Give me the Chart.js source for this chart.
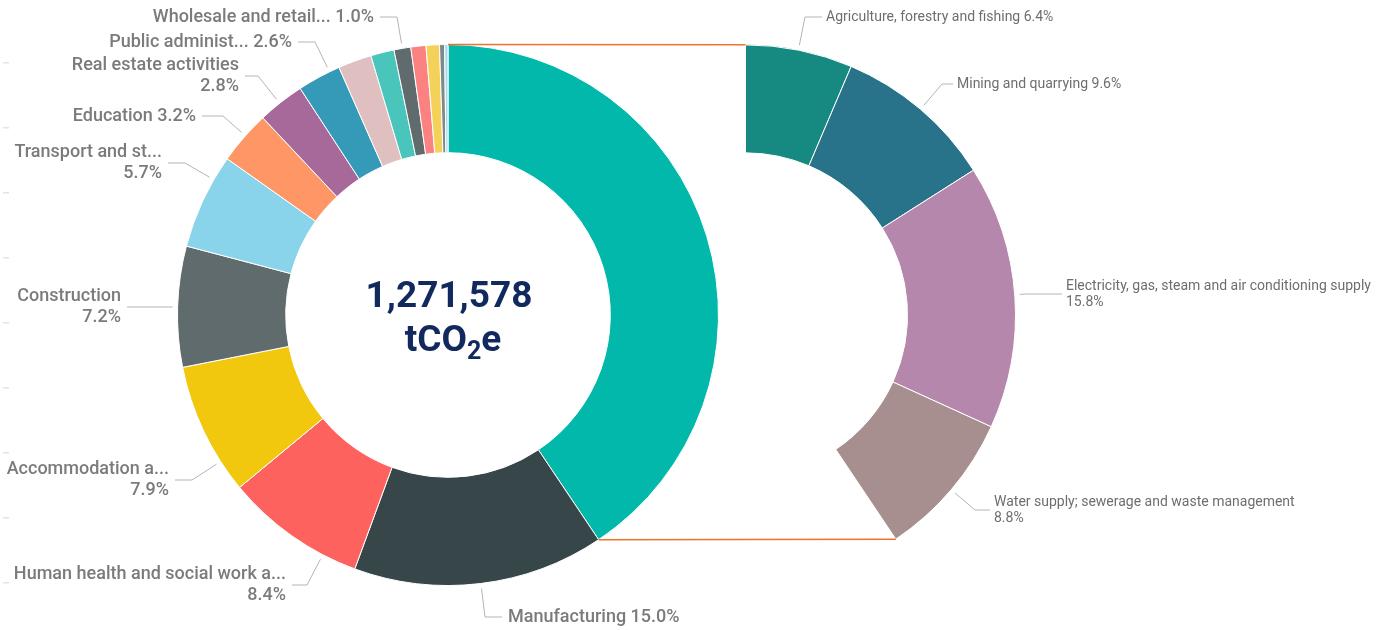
<!DOCTYPE html>
<html>
<head>
<meta charset="utf-8">
<title>Emissions by sector</title>
<script src="https://cdn.jsdelivr.net/npm/chart.js@4.4.0/dist/chart.umd.min.js"></script>
<style>
  html, body { margin: 0; padding: 0; background: #fff; }
  .stage { position: relative; width: 1379px; height: 630px; overflow: hidden; }
  .stage canvas { position: absolute; left: 0; top: 0; }
</style>
</head>
<body>
<div class="stage">
  <canvas id="sectorChart" width="1379" height="630"></canvas>
  <canvas id="breakdownChart" width="1379" height="630"></canvas>
</div>
<script>
// total footprint shown in the middle of the ring
const totalEmissions = 1271578;

// main ring: share of total emissions (%), clockwise from 12 o'clock
const sectors = [
    'Agriculture, mining, energy and water',
    'Manufacturing',
    'Human health and social work activities',
    'Accommodation and food service activities',
    'Construction',
    'Transport and storage',
    'Education',
    'Real estate activities',
    'Public administration and defence',
    'Professional, scientific and technical activities',
    'Administrative and support service activities',
    'Wholesale and retail trade',
    'Arts, entertainment and recreation',
    'Other service activities',
    'Information and communication',
    'Financial and insurance activities'
];
const sectorShares = [40.6, 15.0, 8.4, 7.9, 7.2, 5.7, 3.2, 2.8, 2.6, 2.0, 1.4, 1.0, 0.9, 0.8, 0.3, 0.2];
const sectorColours = [
    '#01B8AA', '#374649', '#FD625E', '#F2C80F', '#5F6B6D', '#8AD4EB', '#FE9666', '#A66999',
    '#3599B8', '#DFBFBF', '#4AC5BB', '#5F6B6D', '#FB8281', '#F4D25A', '#7F898A', '#A4DDEE'
];
// names as they fit next to the ring
const sectorTags = [
    '', 'Manufacturing', 'Human health and social work a...', 'Accommodation a...', 'Construction',
    'Transport and st...', 'Education', 'Real estate activities', 'Public administ...',
    '', '', 'Wholesale and retail...', '', '', '', ''
];

// breakout of the first slice
const breakdownSectors = [
    'Agriculture, forestry and fishing',
    'Mining and quarrying',
    'Electricity, gas, steam and air conditioning supply',
    'Water supply; sewerage and waste management'
];
const breakdownShares = [6.4, 9.6, 15.8, 8.8];
const breakdownColours = ['#168980', '#28738A', '#B687AC', '#A78F8F'];

// where each outside label sits: elbow of the leader, side, horizontal run, one or two lines
const sectorLabelLayout = [
    { index: 11, elbow: [397, 17], dir: -1, run: 17, wrap: false },
    { index: 8, elbow: [315, 42], dir: -1, run: 17, wrap: false },
    { index: 7, elbow: [258, 76], dir: -1, run: 13, wrap: true },
    { index: 6, elbow: [223, 116], dir: -1, run: 21, wrap: false },
    { index: 5, elbow: [185, 163], dir: -1, run: 17, wrap: true },
    { index: 4, elbow: [170, 307], dir: -1, run: 43, wrap: true },
    { index: 3, elbow: [192, 480], dir: -1, run: 17, wrap: true },
    { index: 2, elbow: [307, 585], dir: -1, run: 15, wrap: true },
    { index: 1, elbow: [485, 617], dir: 1, run: 17, wrap: false }
];
const breakdownLabelLayout = [
    { index: 0, elbow: [805, 17], dir: 1, run: 17, wrap: false },
    { index: 1, elbow: [942, 84], dir: 1, run: 11, wrap: false },
    { index: 2, elbow: [1025, 294], dir: 1, run: 37, wrap: true },
    { index: 3, elbow: [975, 510], dir: 1, run: 15, wrap: true }
];

function drawLeaderLabels(chart, layout, names, values, style) {
    const ctx = chart.ctx;
    const arcs = chart.getDatasetMeta(0).data;
    ctx.save();
    ctx.font = style.font;
    ctx.textBaseline = 'middle';
    layout.forEach(function(l) {
        const arc = arcs[l.index].getProps(['x', 'y', 'outerRadius'], true);
        const ang = Math.atan2(l.elbow[1] - arc.y, l.elbow[0] - arc.x);
        const r = arc.outerRadius + 5;
        const endX = l.elbow[0] + l.dir * l.run;

        ctx.strokeStyle = style.lineColour;
        ctx.lineWidth = 1;
        ctx.beginPath();
        ctx.moveTo(arc.x + r * Math.cos(ang), arc.y + r * Math.sin(ang));
        ctx.lineTo(l.elbow[0], l.elbow[1]);
        ctx.lineTo(endX, l.elbow[1]);
        ctx.stroke();

        const pct = values[l.index].toFixed(1) + '%';
        const tx = endX + l.dir * style.gap;
        ctx.textAlign = l.dir < 0 ? 'right' : 'left';
        ctx.fillStyle = style.textColour;
        if (l.wrap) {
            ctx.fillText(names[l.index], tx, l.elbow[1] - style.lineGap / 2);
            ctx.fillText(pct, tx, l.elbow[1] + style.lineGap / 2);
        } else {
            ctx.fillText(names[l.index] + ' ' + pct, tx, l.elbow[1]);
        }
    });
    ctx.restore();
}

// faint dashes down the left edge
const edgeTicks = {
    id: 'edgeTicks',
    beforeDatasetsDraw(chart) {
        const ctx = chart.ctx;
        ctx.save();
        ctx.fillStyle = '#e4e4e4';
        for (let y = 63; y < 630; y += 65) {
            ctx.fillRect(3, y - 1, 6, 1.5);
        }
        ctx.restore();
    }
};

const sectorLabels = {
    id: 'sectorLabels',
    afterDatasetsDraw(chart) {
        drawLeaderLabels(chart, sectorLabelLayout, sectorTags, sectorShares, {
            font: '500 18px Roboto', textColour: '#7b7b7b', lineColour: '#b4b4b4', gap: 6, lineGap: 21
        });
    }
};

const centreTotal = {
    id: 'centreTotal',
    afterDatasetsDraw(chart) {
        const ctx = chart.ctx;
        const c = chart.getDatasetMeta(0).data[0].getProps(['x', 'y'], true);
        ctx.save();
        ctx.fillStyle = '#12295E';
        ctx.textAlign = 'center';
        ctx.textBaseline = 'middle';
        ctx.font = 'bold 37px Roboto';
        ctx.fillText(totalEmissions.toLocaleString('en-US'), c.x + 1, c.y - 17);

        // tCO2e with a lowered, smaller 2
        ctx.textAlign = 'left';
        ctx.textBaseline = 'alphabetic';
        const big = 'bold 37px Roboto', small = 'bold 25px Roboto';
        ctx.font = big;
        const w1 = ctx.measureText('tCO').width;
        const w3 = ctx.measureText('e').width;
        ctx.font = small;
        const w2 = ctx.measureText('2').width;
        let x = c.x + 5 - (w1 + w2 + w3) / 2;
        const base = c.y + 36;
        ctx.font = big;
        ctx.fillText('tCO', x, base);
        ctx.font = small;
        ctx.fillText('2', x + w1, base + 8);
        ctx.font = big;
        ctx.fillText('e', x + w1 + w2, base);
        ctx.restore();
    }
};

const sectorChart = new Chart(document.getElementById('sectorChart'), {
    type: 'doughnut',
    data: {
        labels: sectors,
        datasets: [{
            data: sectorShares,
            backgroundColor: sectorColours,
            borderColor: '#ffffff',
            borderWidth: 1
        }]
    },
    options: {
        responsive: false,
        animation: false,
        events: [],
        cutout: '60%',
        layout: { padding: { left: 177, top: 44, right: 660, bottom: 44 } },
        plugins: {
            legend: { display: false },
            tooltip: { enabled: false }
        }
    },
    plugins: [edgeTicks, sectorLabels, centreTotal]
});

// orange guides joining the first slice to its breakout
const breakoutGuides = {
    id: 'breakoutGuides',
    afterDatasetsDraw(chart) {
        const keys = ['x', 'y', 'startAngle', 'endAngle', 'outerRadius'];
        const src = sectorChart.getDatasetMeta(0).data[0].getProps(keys, true);
        const arcs = chart.getDatasetMeta(0).data;
        const first = arcs[0].getProps(keys, true);
        const last = arcs[arcs.length - 1].getProps(keys, true);
        const pt = function(a, angle) {
            return [a.x + a.outerRadius * Math.cos(angle), a.y + a.outerRadius * Math.sin(angle)];
        };
        const ctx = chart.ctx;
        ctx.save();
        ctx.strokeStyle = '#F0712C';
        ctx.lineWidth = 1.5;
        [[pt(src, src.startAngle), pt(first, first.startAngle)],
         [pt(src, src.endAngle), pt(last, last.endAngle)]].forEach(function(seg) {
            ctx.beginPath();
            ctx.moveTo(seg[0][0], seg[0][1]);
            ctx.lineTo(seg[1][0], seg[1][1]);
            ctx.stroke();
        });
        ctx.restore();
    }
};

const breakdownLabels = {
    id: 'breakdownLabels',
    afterDatasetsDraw(chart) {
        drawLeaderLabels(chart, breakdownLabelLayout, breakdownSectors, breakdownShares, {
            font: '14px Roboto', textColour: '#6e6e6e', lineColour: '#b4b4b4', gap: 4, lineGap: 16
        });
    }
};

const sharesTotal = sectorShares.reduce((a, b) => a + b, 0);
const breakdownTotal = breakdownShares.reduce((a, b) => a + b, 0);

const breakdownChart = new Chart(document.getElementById('breakdownChart'), {
    type: 'doughnut',
    data: {
        labels: breakdownSectors,
        datasets: [{
            data: breakdownShares,
            backgroundColor: breakdownColours,
            borderColor: '#ffffff',
            borderWidth: 1
        }]
    },
    options: {
        responsive: false,
        animation: false,
        events: [],
        cutout: '60%',
        rotation: 0,
        circumference: breakdownTotal / sharesTotal * 360,
        layout: { padding: { left: 745, top: 44, right: 363, bottom: 90 } },
        plugins: {
            legend: { display: false },
            tooltip: { enabled: false }
        }
    },
    plugins: [breakoutGuides, breakdownLabels]
});
</script>
</body>
</html>
